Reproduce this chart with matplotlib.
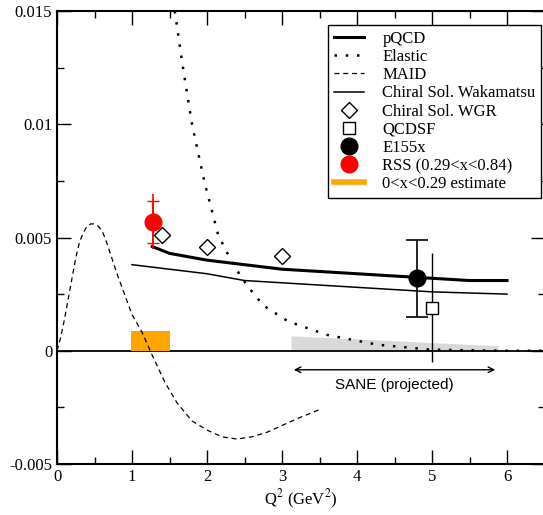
import numpy as np
import matplotlib
matplotlib.use('Agg')
import matplotlib.pyplot as plt
from matplotlib.lines import Line2D

plt.rcParams['font.family'] = 'Liberation Serif'
plt.rcParams['mathtext.fontset'] = 'stix'

# MAID (dashed)
maid_x = [0.0, 0.05, 0.1, 0.15, 0.2, 0.25, 0.3, 0.35, 0.4, 0.45, 0.5, 0.55, 0.6, 0.65, 0.7, 0.75, 0.8, 0.9,
          1.0, 1.13, 1.27, 1.44, 1.6, 1.8, 2.0, 2.2, 2.4, 2.6, 2.8, 3.0, 3.2, 3.5]
maid_y = [0.0, 0.0006, 0.0014, 0.0023, 0.0032, 0.0041, 0.0048, 0.0052, 0.0055, 0.0056, 0.0056, 0.0055,
          0.0053, 0.0049, 0.0044, 0.0039, 0.0034, 0.0025, 0.0016, 0.00084, -0.0002, -0.0014, -0.0023,
          -0.0031, -0.0035, -0.0038, -0.0039, -0.0038, -0.0036, -0.0033, -0.0030, -0.0026]

# Elastic (dotted)
el_x = [1.57, 1.68, 1.8, 1.97, 2.15, 2.35, 2.53, 2.75, 3.08, 3.6, 4.27, 4.97, 5.5, 6.0, 6.5]
el_y = [0.015, 0.0125, 0.0100, 0.0074, 0.0051, 0.0038, 0.0029, 0.0020, 0.0013, 0.0007, 0.00027, 0.00005, 0.00002, 0.0, 0.0]

# pQCD (thick)
pqcd_x = [1.27, 1.5, 2.0, 2.5, 3.0, 4.0, 5.0, 5.5, 6.0]
pqcd_y = [0.0046, 0.0043, 0.0040, 0.0038, 0.0036, 0.0034, 0.0032, 0.0031, 0.0031]

# Chiral Sol. Wakamatsu (thin)
wak_x = [1.0, 1.5, 2.0, 2.5, 3.0, 4.0, 5.0, 6.0]
wak_y = [0.0038, 0.0036, 0.0034, 0.0031, 0.0030, 0.0028, 0.0026, 0.0025]

# Chiral Sol. WGR
wgr_x = [1.4, 2.0, 3.0]
wgr_y = [0.0051, 0.0046, 0.0042]

# QCDSF
qcdsf_x = [5.0]
qcdsf_y = [0.0019]
qcdsf_err = [0.0024]

# E155x
e155_x = [4.8]
e155_y = [0.0032]
e155_err = [0.0017]

# RSS
rss_x = [1.28]
rss_y = [0.0057]
rss_stat = [0.00093]
rss_tot = [0.0012]

# 0<x<0.29 estimate (orange box)
est_x = [0.98, 1.51]
est_y = [0.00085, 0.00085]

# SANE projected band
sane_x = [3.12, 5.88]
sane_y = [0.00066, 0.00022]

fig = plt.figure(figsize=(5.43, 5.15), dpi=100)
ax = fig.add_axes([57 / 543, 51 / 515, 487.5 / 543, 453 / 515])

ax.axhline(0, color='black', lw=1.3, zorder=1)
ax.fill_between(sane_x, 0, sane_y, color='#d9d9d9', lw=0, zorder=0)
ax.fill_between(est_x, 0, est_y, color='orange', lw=0, zorder=2)

ax.plot(maid_x, maid_y, color='black', ls=(0, (4, 3)), lw=0.9)
ax.plot(el_x, el_y, color='black', ls=(0, (1, 3.5)), lw=1.8)
ax.plot(pqcd_x, pqcd_y, color='black', lw=2.2)
ax.plot(wak_x, wak_y, color='black', lw=1.1)

ax.plot(wgr_x, wgr_y, 'D', mfc='white', mec='black', ms=8, mew=1.0)
ax.errorbar(qcdsf_x, qcdsf_y, yerr=qcdsf_err, fmt='s', mfc='white', mec='black',
            ecolor='black', ms=9, mew=1.0, elinewidth=1.0, capsize=0, zorder=4)
ax.errorbar(e155_x, e155_y, yerr=e155_err, fmt='o', color='black', ms=12,
            elinewidth=1.2, capsize=8, capthick=1.2, zorder=5)
ax.errorbar(rss_x, rss_y, yerr=rss_tot, fmt='none', ecolor='red', elinewidth=1.2, capsize=0)
ax.errorbar(rss_x, rss_y, yerr=rss_stat, fmt='o', color='red', ms=12,
            elinewidth=1.2, capsize=4, capthick=1.0, zorder=5)

ax.annotate('', xy=(sane_x[0], -0.00084), xytext=(sane_x[1], -0.00084),
            arrowprops=dict(arrowstyle='<->', color='black', lw=1.0))
ax.text(np.mean(sane_x), -0.0015, 'SANE (projected)', family='Liberation Sans',
        fontsize=11, ha='center', va='center')

ax.set_xlim(0, 6.5)
ax.set_ylim(-0.005, 0.015)
ax.set_xticks(range(0, 7))
ax.set_xticks(np.arange(0.5, 6.5, 1.0), minor=True)
ax.set_yticks([-0.005, 0, 0.005, 0.01, 0.015])
ax.set_yticklabels(['-0.005', '0', '0.005', '0.01', '0.015'])
ax.set_yticks([-0.0025, 0.0025, 0.0075, 0.0125], minor=True)
ax.tick_params(which='both', direction='in', top=True, right=True, labelsize=12)
ax.tick_params(which='major', length=10, width=1.0)
ax.tick_params(which='minor', length=5, width=1.0)
for s in ax.spines.values():
    s.set_linewidth(1.5)
ax.set_xlabel('Q$^2$ (GeV$^2$)', fontsize=12, labelpad=2)

handles = [
    Line2D([], [], color='black', lw=2.2),
    Line2D([], [], color='black', ls=(0, (1, 3.5)), lw=1.8),
    Line2D([], [], color='black', ls=(0, (4, 3)), lw=0.9),
    Line2D([], [], color='black', lw=1.1),
    Line2D([], [], marker='D', ls='none', mfc='white', mec='black', ms=8),
    Line2D([], [], marker='s', ls='none', mfc='white', mec='black', ms=9),
    Line2D([], [], marker='o', ls='none', color='black', ms=12),
    Line2D([], [], marker='o', ls='none', color='red', ms=12),
    Line2D([], [], color='orange', lw=4),
]
labels = ['pQCD', 'Elastic', 'MAID', 'Chiral Sol. Wakamatsu', 'Chiral Sol. WGR',
          'QCDSF', 'E155x', 'RSS (0.29<x<0.84)', '0<x<0.29 estimate']
leg = ax.legend(handles, labels, loc='upper right', bbox_to_anchor=(0.9935, 0.969),
                fontsize=12, frameon=True, fancybox=False, edgecolor='black',
                framealpha=1, borderpad=0.35, labelspacing=0.13, handlelength=1.8,
                handletextpad=1.1, borderaxespad=0)
leg.get_frame().set_linewidth(1.0)

fig.savefig('out.png', dpi=100)
